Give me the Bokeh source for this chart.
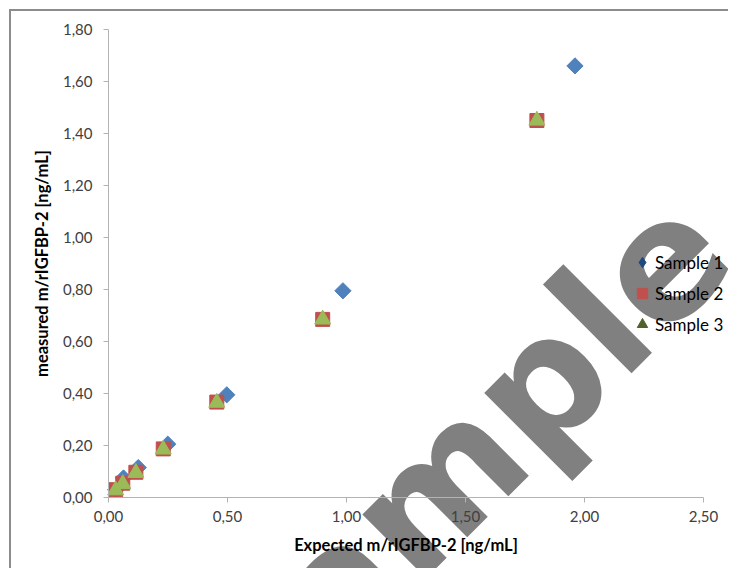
import math
from bokeh.plotting import figure
from bokeh.models import ColumnDataSource, FixedTicker, Legend, LegendItem, Label
from bokeh.embed import file_html
from bokeh.resources import INLINE

# ---- data ----
series_names = ["Sample 1", "Sample 2", "Sample 3"]
s1_x = [0.030, 0.063, 0.125, 0.249, 0.497, 0.985, 1.960]
s1_y = [0.030, 0.075, 0.115, 0.205, 0.395, 0.795, 1.660]
s2_x = [0.030, 0.060, 0.115, 0.230, 0.455, 0.900, 1.800]
s2_y = [0.030, 0.055, 0.097, 0.187, 0.367, 0.685, 1.450]
s3_x = [0.030, 0.060, 0.115, 0.230, 0.455, 0.900, 1.800]
s3_y = [0.028, 0.052, 0.095, 0.185, 0.365, 0.685, 1.450]

x_ticks = [0.0, 0.5, 1.0, 1.5, 2.0, 2.5]
x_tick_labels = ["0,00", "0,50", "1,00", "1,50", "2,00", "2,50"]
y_ticks = [0.0, 0.2, 0.4, 0.6, 0.8, 1.0, 1.2, 1.4, 1.6, 1.8]
y_tick_labels = ["0,00", "0,20", "0,40", "0,60", "0,80", "1,00", "1,20", "1,40", "1,60", "1,80"]

x_label = "Expected m/rIGFBP-2 [ng/mL]"
y_label = "measured m/rIGFBP-2 [ng/mL]"
watermark = "Sample"

# ---- styles / layout ----
C1, C2, C3 = "#4F81BD", "#C0504D", "#9BBB59"
L1, L2, L3 = "#1F497D", "#C0504D", "#4F6228"
FONT = "Lato"

W, H = 719, 559                      # canvas size (frame fills the canvas)
X0_PX, X1_PX = 97, 692               # canvas px of x=0 and x=2.5
Y0_PX, Y1_PX = 486, 18               # canvas px (from top) of y=0 and y=1.8
XMAX, YMAX = x_ticks[-1], y_ticks[-1]
kx = (X1_PX - X0_PX) / XMAX
ky = (Y0_PX - Y1_PX) / YMAX
x_start, x_end = -X0_PX / kx, (W - X0_PX) / kx
y_start, y_end = (Y0_PX - H) / ky, Y0_PX / ky

p = figure(width=W, height=H, x_range=(x_start, x_end), y_range=(y_start, y_end),
           output_backend="svg", toolbar_location=None,
           min_border=0, min_border_left=0, min_border_right=0,
           min_border_top=0, min_border_bottom=0)
p.styles = {"border-left": "2px solid #8c8c8c", "border-top": "2px solid #8c8c8c",
            "margin-left": "9px", "margin-top": "9px"}
p.outline_line_color = None
p.background_fill_color = "white"
p.border_fill_color = "white"
p.xgrid.visible = False
p.ygrid.visible = False

# watermark (underneath everything)
wm = Label(x=202, y=-140, x_units="screen", y_units="screen", text=watermark,
           angle=math.pi / 4, text_font="DejaVu Sans", text_font_size="165px",
           text_font_style="bold", text_color="#808080",
           text_align="left", text_baseline="alphabetic", level="underlay")
p.add_layout(wm)

src1 = ColumnDataSource(dict(x=s1_x, y=s1_y))
src2 = ColumnDataSource(dict(x=s2_x, y=s2_y))
src3 = ColumnDataSource(dict(x=s3_x, y=s3_y))

# legend-only renderers (hidden; Excel draws legend markers in darker shades)
g1 = p.scatter("x", "y", source=src1, marker="diamond",
               fill_color=L1, line_color=L1, visible=False)
g2 = p.scatter("x", "y", source=src2, marker="square", fill_color=L2, line_color=L2,
               visible=False)
g3 = p.scatter("x", "y", source=src3, marker="triangle", fill_color=L3, line_color=L3,
               visible=False)

r1 = p.scatter("x", "y", source=src1, marker="square", angle=math.pi / 4, size=11.5,
               fill_color=C1, line_color=C1)
r2 = p.scatter("x", "y", source=src2, marker="square", size=14,
               fill_color=C2, line_color=C2)
r3 = p.scatter("x", "y", source=src3, marker="triangle", size=16,
               fill_color=C3, line_color=C3)

legend = Legend(items=[LegendItem(label=series_names[0], renderers=[g1]),
                       LegendItem(label=series_names[1], renderers=[g2]),
                       LegendItem(label=series_names[2], renderers=[g3])],
                location=(618, 233), glyph_width=26, glyph_height=26,
                label_standoff=0, spacing=5, padding=0, margin=0,
                label_text_font=FONT, label_text_font_size="17px",
                label_text_color="#000000", inactive_fill_alpha=0,
                background_fill_alpha=0, border_line_alpha=0)
p.add_layout(legend, "center")

# axes (fixed at the origin, limited to the data extent)
for ax in (p.xaxis[0], p.yaxis[0]):
    ax.fixed_location = 0
    ax.axis_line_color = "#b3b3b3"
    ax.major_tick_line_color = "#b3b3b3"
    ax.major_tick_out = 5
    ax.major_tick_in = 0
    ax.minor_tick_line_color = None
    ax.major_label_text_font = FONT
    ax.major_label_text_font_size = "15px"
    ax.major_label_text_color = "#404040"
    ax.axis_label_text_font = FONT
    ax.axis_label_text_font_size = "16.5px"
    ax.axis_label_text_font_style = "bold"
    ax.axis_label_text_color = "#000000"

p.xaxis[0].bounds = (0, XMAX)
p.xaxis[0].ticker = FixedTicker(ticks=x_ticks)
p.xaxis[0].major_label_overrides = dict(zip(x_ticks, x_tick_labels))
p.xaxis[0].major_label_standoff = 8
p.xaxis[0].axis_label = x_label
p.xaxis[0].axis_label_standoff = 10

p.yaxis[0].bounds = (0, YMAX)
p.yaxis[0].ticker = FixedTicker(ticks=y_ticks)
p.yaxis[0].major_label_overrides = dict(zip(y_ticks, y_tick_labels))
p.yaxis[0].major_label_standoff = 11
p.yaxis[0].axis_label = y_label
p.yaxis[0].axis_label_standoff = 8

open("out.html", "w").write(file_html(p, INLINE))
